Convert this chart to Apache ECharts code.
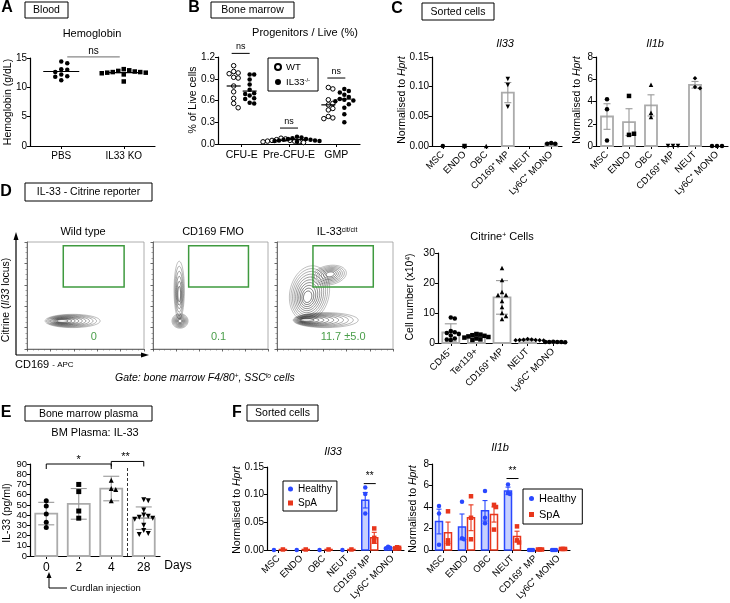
<!DOCTYPE html>
<html><head><meta charset="utf-8">
<script src="https://cdn.jsdelivr.net/npm/echarts@6/dist/echarts.min.js"></script>
<style>html,body{margin:0;padding:0;background:#fff}#c{width:730px;height:603px}</style>
</head><body><div id="c"></div>
<script>
// ---------------- DATA ----------------
// A: Hemoglobin
const aCats = ['PBS', 'IL33 KO'];
const aPBS = [14.4, 14.1, 13.1, 13.0, 12.6, 12.2, 11.9, 11.8, 11.2];
const aKO = [13.1, 12.9, 12.8, 12.7, 12.6, 12.6, 12.5, 12.5, 12.4, 12.2, 11.0];
const aMedian = [12.7, 12.5];
// B: Progenitors / Live
const bCats = ['CFU-E', 'Pre-CFU-E', 'GMP'];
const bWT = [[1.08, 1.0, 0.98, 0.97, 0.92, 0.91, 0.80, 0.72, 0.63, 0.56, 0.50],
             [0.08, 0.07, 0.06, 0.05, 0.05, 0.04, 0.04, 0.03, 0.03, 0.02],
             [0.78, 0.76, 0.61, 0.56, 0.54, 0.49, 0.47, 0.38, 0.36, 0.35]];
const bKO = [[0.96, 0.96, 0.89, 0.82, 0.75, 0.70, 0.69, 0.67, 0.63, 0.62, 0.57, 0.56],
             [0.10, 0.09, 0.08, 0.07, 0.07, 0.06, 0.06, 0.05, 0.05, 0.04, 0.04, 0.03],
             [0.76, 0.73, 0.71, 0.68, 0.65, 0.62, 0.61, 0.60, 0.59, 0.55, 0.50, 0.41, 0.30]];
const bWTmed = [0.80, 0.05, 0.54];
const bKOmed = [0.73, 0.06, 0.62];
// C: Sorted cells
const cCats = ['MSC', 'ENDO', 'OBC', 'CD169⁺ MP', 'NEUT', 'Ly6C⁺ MONO'];
const cIl33Mean = [0, 0, 0, 0.090, 0, 0.004];
const cIl33Err = [0, 0, 0, 0.017, 0, 0.001];
const cIl33Pts = [[0], [0], [0], [0.113, 0.103, 0.066], [], [0.005, 0.004, 0.004]];
const cIl1bMean = [2.65, 2.15, 3.65, 0, 5.5, 0];
const cIl1bErr = [1.15, 1.2, 0.95, 0, 0.3, 0];
const cIl1bPts = [[4.2, 3.3, 0.5], [4.5, 1.0, 1.1], [5.5, 3.0, 2.6], [0, 0, 0], [6.1, 5.3, 5.2], [0, 0, 0]];
const cSymbols = ['circle', 'rect', 'triangle', 'triangle', 'diamond', 'circle'];
const cRot = [0, 0, 0, 180, 0, 0];
// D: Citrine reporter
const flowTitles = ['Wild type', 'CD169 FMO', '{t|IL-33}{s|cit/cit}'];
const flowPct = ['0', '0.1', '11.7 ±5.0'];
const gate = [0.31, 0.58, 0.83, 0.965];
// contour blobs: [cx, cy, rx, ry, rotDeg, coreX, coreY, rings]
const flowBlobs = [
  [[0.39, 0.262, 0.235, 0.062, 0, 0.28, 0.262, 10]],
  [[0.235, 0.262, 0.07, 0.068, 0, 0.235, 0.262, 8], [0.228, 0.55, 0.045, 0.27, 0, 0.228, 0.5, 6]],
  [[0.42, 0.27, 0.28, 0.07, 0, 0.22, 0.27, 10], [0.28, 0.52, 0.17, 0.26, -10, 0.26, 0.48, 10], [0.45, 0.69, 0.15, 0.09, 12, 0.46, 0.70, 7]]
];
const dCats = ['CD45⁻', 'Ter119+', 'CD169⁺ MP', 'NEUT', 'Ly6C⁺ MONO'];
const dMean = [3.5, 2.2, 15.2, 1.0, 0.3];
const dErr = [2.9, 0.6, 5.6, 0.3, 0.1];
const dPts = [[8.5, 8.2, 4.0, 3.6, 3.3, 3.0, 2.5, 1.5, 1.2, 1.0],
              [3.0, 2.8, 2.6, 2.4, 2.2, 2.0, 1.8, 1.5, 1.2, 1.0],
              [25, 21, 17, 16, 16, 14, 12, 10, 9, 8],
              [1.3, 1.2, 1.1, 1.0, 1.0, 0.9, 0.9, 0.8],
              [0.4, 0.35, 0.3, 0.3, 0.3, 0.25]];
const dSymbols = ['circle', 'rect', 'triangle', 'diamond', 'circle'];
// E: BM plasma IL-33
const eCats = ['0', '2', '4', '28'];
const eMean = [41.5, 51, 66, 37];
const eErr = [11, 15, 12, 11];
const ePts = [[54, 49, 41, 33, 28], [70, 63, 44, 37], [74, 66, 65, 54], [55, 54, 45, 40, 39, 38, 37, 36, 30, 25, 22, 21]];
const eSymbols = ['circle', 'rect', 'triangle', 'triangle'];
const eRot = [0, 0, 0, 180];
// F: Healthy vs SpA
const fCats = ['MSC', 'ENDO', 'OBC', 'NEUT', 'CD169⁺ MP', 'Ly6C⁺ MONO'];
const fIl33HMean = [0, 0, 0, 0, 0.090, 0.004];
const fIl33HErr = [0, 0, 0, 0, 0.014, 0.001];
const fIl33HPts = [[0], [0], [0], [0], [0.113, 0.101, 0.066], [0.006, 0.004, 0.003]];
const fIl33SMean = [0.001, 0.001, 0.001, 0.001, 0.022, 0.004];
const fIl33SErr = [0, 0, 0, 0, 0.010, 0.001];
const fIl33SPts = [[0.001], [0.001], [0.001], [0.001], [0.039, 0.022, 0.015], [0.005, 0.004, 0.003]];
const fIl1bHMean = [2.65, 2.15, 3.65, 5.5, 0.02, 0.02];
const fIl1bHErr = [1.15, 1.2, 0.95, 0.35, 0, 0];
const fIl1bHPts = [[4.1, 3.4, 0.5], [4.5, 1.1, 1.0], [5.5, 3.0, 2.5], [6.1, 5.3, 5.2], [0, 0, 0], [0, 0, 0]];
const fIl1bSMean = [1.6, 3.0, 3.3, 1.25, 0.05, 0.1];
const fIl1bSErr = [1.0, 1.2, 0.7, 0.5, 0, 0];
const fIl1bSPts = [[3.6, 0.9, 0.6], [5.0, 3.0, 1.0], [4.2, 4.0, 1.9], [2.2, 0.9, 0.7], [0.05, 0.05, 0.05], [0.1, 0.1, 0.1]];

// ---------------- BUILD ----------------
const FONT = '"Liberation Sans", Arial, Helvetica, sans-serif';
const grids = [], xAxes = [], yAxes = [], series = [], graphics = [], legends = [];
const BLUE = '#2a48ff', RED = '#e8361c';

function addPlot(g, cats, yopt, xopt) {
  const idx = grids.length;
  grids.push({ left: g[0], top: g[1], width: g[2], height: g[3] });
  xAxes.push(Object.assign({
    type: 'category', gridIndex: idx, data: cats,
    axisLine: { lineStyle: { color: '#000', width: 1.2 } },
    axisTick: { show: true, alignWithLabel: true, length: 3, lineStyle: { color: '#000' } },
    axisLabel: { color: '#000', fontSize: 10, fontFamily: FONT, margin: 5, interval: 0 }
  }, xopt || {}));
  yAxes.push(Object.assign({
    type: 'value', gridIndex: idx,
    axisLine: { show: true, lineStyle: { color: '#000', width: 1.2 } },
    axisTick: { show: true, length: 3, lineStyle: { color: '#000' } },
    splitLine: { show: false },
    axisLabel: { color: '#000', fontSize: 10, fontFamily: FONT, margin: 3 }
  }, yopt));
  return idx;
}

function ln(x1, y1, x2, y2, stroke, lw, dash) {
  return { type: 'line', shape: { x1, y1, x2, y2 }, style: { stroke, lineWidth: lw, lineDash: dash || null } };
}

function barSeries(idx, means, errs, o) {
  series.push({
    type: 'custom', xAxisIndex: idx, yAxisIndex: idx, silent: true, z: 2, clip: false,
    data: means.map((m, i) => [i, m, m + errs[i], m - errs[i]]),
    renderItem: (p, api) => {
      const c = api.value(0), m = api.value(1), hi = api.value(2), lo = api.value(3);
      const p0 = api.coord([c, 0]), p1 = api.coord([c, m]), ph = api.coord([c, hi]), pl = api.coord([c, Math.max(lo, 0)]);
      const x = p0[0] + (o.offset || 0), w = o.width, cw = o.cap || 3;
      const ch = [];
      if (m > 0 && p0[1] - p1[1] > 0.5) ch.push({ type: 'rect', shape: { x: x - w / 2, y: p1[1], width: w, height: p0[1] - p1[1] }, style: { fill: o.fill, stroke: o.stroke, lineWidth: o.lw } });
      if (hi > m) {
        ch.push(ln(x, p1[1], x, ph[1], o.err, o.elw || 1.1), ln(x - cw, ph[1], x + cw, ph[1], o.err, o.elw || 1.1));
        ch.push(ln(x, p1[1], x, pl[1], o.err, o.elw || 1.1), ln(x - cw, pl[1], x + cw, pl[1], o.err, o.elw || 1.1));
      }
      return { type: 'group', children: ch };
    }
  });
}

// beeswarm-like horizontal layout of points (layout only, values untouched)
function swarm(vals, pxPerUnit, gap) {
  const placed = [];
  return vals.map((v) => {
    const used = new Set();
    placed.forEach(q => { if (Math.abs(q.v - v) * pxPerUnit < gap) used.add(q.s); });
    let s = 0; const order = [0, 1, -1, 2, -2, 3, -3, 4, -4, 5, -5];
    for (const k of order) { if (!used.has(k)) { s = k; break; } }
    placed.push({ v, s });
    return s;
  });
}

function dotSeries(idx, name, pts, o) {
  const data = [];
  pts.forEach((arr, c) => {
    const slots = swarm(arr, o.ppu, o.gap || 4);
    arr.forEach((v, i) => {
      const item = { value: [c, v], symbolOffset: [(o.offset || 0) + slots[i] * (o.step || 4), 0] };
      if (o.symbols) item.symbol = o.symbols[c];
      if (o.rots) item.symbolRotate = o.rots[c];
      data.push(item);
    });
  });
  series.push({
    type: 'scatter', name, xAxisIndex: idx, yAxisIndex: idx, data, silent: true, z: 4,
    symbol: o.symbol || 'circle', symbolSize: o.size || 4.5,
    itemStyle: { color: o.color, borderColor: o.border || o.color, borderWidth: o.bw || 0, opacity: 1 }
  });
}

function medianSeries(idx, meds, offset, half, color) {
  series.push({
    type: 'custom', xAxisIndex: idx, yAxisIndex: idx, silent: true, z: 5, clip: false,
    data: meds.map((m, i) => [i, m]),
    renderItem: (p, api) => {
      const q = api.coord([api.value(0), api.value(1)]);
      const x = q[0] + offset;
      return ln(x - half, q[1], x + half, q[1], color, 1.2);
    }
  });
}

// annotations in data coordinates
function annot(idx, items) {
  series.push({
    type: 'custom', xAxisIndex: idx, yAxisIndex: idx, silent: true, z: 6, clip: false,
    data: [[0, 0]],
    renderItem: (p, api) => {
      const ch = [];
      items.forEach(a => {
        const p1 = api.coord([a.c1, a.y]), p2 = api.coord([a.c2, a.y]);
        const x1 = p1[0] + (a.d1 || 0), x2 = p2[0] + (a.d2 || 0), y = p1[1];
        const col = a.color || '#000';
        ch.push(ln(x1, y, x2, y, col, a.lw || 1));
        if (a.drop1) ch.push(ln(x1, y, x1, y + a.drop1, col, 1));
        if (a.drop2) ch.push(ln(x2, y, x2, y + a.drop2, col, 1));
        if (a.text) ch.push({ type: 'text', style: { text: a.text, x: (x1 + x2) / 2 + (a.tdx || 0), y: y - (a.dy || 2), fill: '#000', font: `${a.fs || 9}px ${FONT}`, align: 'center', verticalAlign: 'bottom' } });
      });
      return { type: 'group', children: ch };
    }
  });
}

function T(x, y, text, o) {
  o = o || {};
  graphics.push({
    type: 'text', x, y, rotation: o.rot || 0, silent: true, z: 10,
    style: {
      text, fill: o.fill || '#000', font: `${o.it ? 'italic ' : ''}${o.w || 'normal'} ${o.s || 10}px ${FONT}`,
      align: o.a || 'center', verticalAlign: 'middle', textAlign: o.a || 'center', textVerticalAlign: 'middle',
      rich: o.rich || undefined
    }
  });
}
function box(x1, y1, x2, y2, text) {
  graphics.push({ type: 'rect', silent: true, z: 10, shape: { x: x1, y: y1, width: x2 - x1, height: y2 - y1 }, style: { fill: '#fff', stroke: '#000', lineWidth: 1 } });
  T((x1 + x2) / 2, (y1 + y2) / 2 + 0.5, text, { s: 10.5 });
}
const sup = (fs) => ({ t: { fontSize: fs, fontFamily: FONT, fill: '#000' }, s: { fontSize: fs * 0.62, fontFamily: FONT, verticalAlign: 'top', fill: '#000' }, i: { fontSize: fs, fontFamily: FONT, fontStyle: 'italic', fill: '#000' } });

// ---------- Panel A ----------
const gA = addPlot([30, 58, 125, 88], aCats, { min: 0, max: 15, interval: 5 });
dotSeries(gA, 'PBS', [aPBS, []], { ppu: 88 / 15, gap: 4.5, step: 6, color: '#000', size: 4.5, symbol: 'circle' });
dotSeries(gA, 'KO', [[], aKO], { ppu: 88 / 15, gap: 4.5, step: 5.5, color: '#000', size: 4.5, symbol: 'rect' });
medianSeries(gA, aMedian, 0, 18, '#000');
annot(gA, [{ c1: 0, d1: 6, c2: 1, d2: -4, y: 15.2, text: 'ns', color: '#888', lw: 1.2, fs: 10, dy: 1 }]);

// ---------- Panel B ----------
const gB = addPlot([218, 57, 142, 87], bCats, { min: 0, max: 1.2, interval: 0.3, axisLabel: { color: '#000', fontSize: 10, fontFamily: FONT, margin: 3, formatter: v => v.toFixed(1) } }, { axisLabel: { color: '#000', fontSize: 10.5, fontFamily: FONT, margin: 6, interval: 0 } });
dotSeries(gB, 'WT', bWT, { ppu: 87 / 1.2, gap: 4.5, step: 4.5, offset: -8, color: '#fff', border: '#000', bw: 1, size: 4.5 });
dotSeries(gB, 'IL33KO', bKO, { ppu: 87 / 1.2, gap: 4.5, step: 4.5, offset: 8, color: '#000', size: 4.5 });
medianSeries(gB, bWTmed, -8, 7, '#000');
medianSeries(gB, bKOmed, 8, 7, '#000');
annot(gB, [
  { c1: 0, d1: -10, c2: 0, d2: 8, y: 1.25, text: 'ns', fs: 9 },
  { c1: 1, d1: -9, c2: 1, d2: 9, y: 0.22, text: 'ns', fs: 9 },
  { c1: 2, d1: -9, c2: 2, d2: 9, y: 0.91, text: 'ns', fs: 9 }
]);
legends.push({
  left: 268, top: 58, orient: 'vertical', data: ['WT', 'IL33KO'], selectedMode: false,
  formatter: n => n === 'WT' ? '{t|WT}' : '{t|IL33}{s|-/-}',
  textStyle: { color: '#000', fontSize: 9.5, fontFamily: FONT, rich: sup(9.5) },
  itemWidth: 6, itemHeight: 6, itemGap: 5, borderColor: '#000', borderWidth: 1, padding: [4, 8, 4, 6], backgroundColor: '#fff'
});

// ---------- Panel C ----------
const rotLab = { color: '#000', fontSize: 9.5, fontFamily: FONT, rotate: 45, margin: 7, interval: 0 };
const gC1 = addPlot([432, 57, 130, 89], cCats, { min: 0, max: 0.15, interval: 0.05, axisLabel: { color: '#000', fontSize: 10, fontFamily: FONT, margin: 3, formatter: v => v.toFixed(2) } }, { axisLabel: rotLab });
barSeries(gC1, cIl33Mean, cIl33Err, { width: 12, fill: '#fff', stroke: '#ababab', lw: 1.8, err: '#999', cap: 3.5 });
dotSeries(gC1, 'c1', cIl33Pts, { ppu: 89 / 0.15, gap: 4, step: 4, color: '#000', size: 4.5, symbols: cSymbols, rots: cRot });
const gC2 = addPlot([596, 57, 132, 89], cCats, { min: 0, max: 8, interval: 2 }, { axisLabel: rotLab });
barSeries(gC2, cIl1bMean, cIl1bErr, { width: 12, fill: '#fff', stroke: '#ababab', lw: 1.8, err: '#999', cap: 3.5 });
dotSeries(gC2, 'c2', cIl1bPts, { ppu: 89 / 8, gap: 4, step: 5, color: '#000', size: 4.5, symbols: cSymbols, rots: cRot });

// ---------- Panel D flow plots ----------
const flowGrids = [[27, 242, 117, 107], [153, 242, 115, 107], [277, 242, 116, 107]];
flowGrids.forEach((fg, k) => {
  const idx = grids.length;
  grids.push({ left: fg[0], top: fg[1], width: fg[2], height: fg[3], show: true, borderColor: '#999', borderWidth: 0.8, backgroundColor: '#fff' });
  const axBase = {
    type: 'value', gridIndex: idx, min: 0, max: 1, interval: 0.2,
    axisLine: { show: true, lineStyle: { color: '#555', width: 0.8 } },
    axisTick: { show: true, length: 2.5, lineStyle: { color: '#444', width: 0.8 } },
    minorTick: { show: true, splitNumber: 4, length: 1.5, lineStyle: { color: '#666', width: 0.6 } },
    axisLabel: { show: false }, splitLine: { show: false }
  };
  xAxes.push(Object.assign({}, axBase));
  yAxes.push(Object.assign({}, axBase));
  const blobs = flowBlobs[k];
  series.push({
    type: 'custom', xAxisIndex: idx, yAxisIndex: idx, silent: true, clip: true, z: 3, data: [[0, 0]],
    renderItem: (p, api) => {
      const ch = [];
      blobs.forEach(b => {
        const [cx, cy, rx, ry, rot, kx, ky, n] = b;
        const rr = rot * Math.PI / 180;
        for (let r = 0; r < n; r++) {
          const s = 1 - (r / n) * 0.88;
          const ccx = kx + (cx - kx) * s, ccy = ky + (cy - ky) * s;
          const pts = [];
          for (let t = 0; t < 60; t++) {
            const a = t / 60 * Math.PI * 2;
            const ex = rx * s * Math.cos(a), ey = ry * s * Math.sin(a);
            pts.push(api.coord([ccx + ex * Math.cos(rr) - ey * Math.sin(rr), ccy + ex * Math.sin(rr) + ey * Math.cos(rr)]));
          }
          ch.push({ type: 'polygon', shape: { points: pts }, style: { fill: null, stroke: `rgba(30,30,30,${0.4 + 0.55 * r / n})`, lineWidth: 0.7 } });
        }
      });
      const g1 = api.coord([gate[0], gate[3]]), g2 = api.coord([gate[2], gate[1]]);
      ch.push({ type: 'rect', shape: { x: g1[0], y: g1[1], width: g2[0] - g1[0], height: g2[1] - g1[1] }, style: { fill: null, stroke: '#3f9a3f', lineWidth: 1.5 } });
      const tp = api.coord([0.57, 0.11]);
      ch.push({ type: 'text', style: { text: flowPct[k], x: tp[0], y: tp[1], fill: '#4a9e4a', font: `11px ${FONT}`, align: 'center', verticalAlign: 'middle' } });
      return { type: 'group', children: ch };
    }
  });
});
// Citrine+ cells
const gD = addPlot([438, 253, 128, 90], dCats, { min: 0, max: 30, interval: 10, axisLabel: { color: '#000', fontSize: 10.5, fontFamily: FONT, margin: 3 } }, { axisLabel: rotLab });
barSeries(gD, dMean, dErr, { width: 17, fill: '#fff', stroke: '#ababab', lw: 1.8, err: '#999', cap: 6 });
dotSeries(gD, 'd', dPts, { ppu: 90 / 30, gap: 4, step: 4, color: '#000', size: 4.5, symbols: dSymbols });

// ---------- Panel E ----------
const gE = addPlot([30, 464, 130, 92], eCats, { min: 0, max: 90, interval: 10, axisLabel: { color: '#000', fontSize: 9.5, fontFamily: FONT, margin: 3 } }, { axisLabel: { color: '#000', fontSize: 12, fontFamily: FONT, margin: 6 } });
barSeries(gE, eMean, eErr, { width: 22, fill: '#fff', stroke: '#ababab', lw: 1.8, err: '#999', cap: 8 });
dotSeries(gE, 'e', ePts, { ppu: 92 / 90, gap: 4.5, step: 4.5, color: '#000', size: 5, symbols: eSymbols, rots: eRot });
annot(gE, [
  { c1: 0, c2: 2, y: 90, text: '*', drop1: 5, drop2: 5, fs: 11, dy: -1 },
  { c1: 2, c2: 3, y: 92.5, text: '**', drop1: 5, drop2: 5, fs: 11, dy: -1, tdx: -2 }
]);
// dashed separator between day 4 and day 28
series.push({
  type: 'custom', xAxisIndex: gE, yAxisIndex: gE, silent: true, z: 6, clip: false, data: [[2, 0]],
  renderItem: (p, api) => {
    const a = api.coord([2, 0]), b = api.coord([3, 87]);
    const x = (a[0] + b[0]) / 2;
    return ln(x, a[1], x, b[1], '#333', 1, [3, 2]);
  }
});

// ---------- Panel F ----------
const gF1 = addPlot([267, 467, 137, 89], fCats, { min: 0, max: 0.15, interval: 0.05, axisLabel: { color: '#000', fontSize: 10, fontFamily: FONT, margin: 3, formatter: v => v.toFixed(2) } }, { axisLabel: rotLab });
barSeries(gF1, fIl33HMean, fIl33HErr, { offset: -4.5, width: 7, fill: 'rgba(70,100,255,0.3)', stroke: BLUE, lw: 1.5, err: BLUE, cap: 2.5 });
barSeries(gF1, fIl33SMean, fIl33SErr, { offset: 4.5, width: 7, fill: 'rgba(255,255,255,0.6)', stroke: RED, lw: 1.5, err: RED, cap: 2.5 });
dotSeries(gF1, 'Healthy', fIl33HPts, { ppu: 89 / 0.15, gap: 3, step: 2, offset: -4.5, color: BLUE, size: 4.5, symbol: 'circle' });
dotSeries(gF1, 'SpA', fIl33SPts, { ppu: 89 / 0.15, gap: 3, step: 2, offset: 4.5, color: RED, size: 4.5, symbol: 'rect' });
annot(gF1, [{ c1: 4, d1: -6, c2: 4, d2: 6, y: 0.12, text: '**', fs: 10, dy: 0 }]);
legends.push({
  left: 283, top: 481, orient: 'vertical', data: ['Healthy', 'SpA'], selectedMode: false,
  textStyle: { color: '#000', fontSize: 10, fontFamily: FONT },
  itemWidth: 5, itemHeight: 5, itemGap: 4, borderColor: '#000', borderWidth: 1, padding: [3, 5, 3, 5], backgroundColor: '#fff'
});
const gF2 = addPlot([432, 464, 138, 90], fCats, { min: 0, max: 8, interval: 2 }, { axisLabel: rotLab });
barSeries(gF2, fIl1bHMean, fIl1bHErr, { offset: -4.5, width: 7, fill: 'rgba(70,100,255,0.3)', stroke: BLUE, lw: 1.5, err: BLUE, cap: 2.5 });
barSeries(gF2, fIl1bSMean, fIl1bSErr, { offset: 4.5, width: 7, fill: 'rgba(255,255,255,0.6)', stroke: RED, lw: 1.5, err: RED, cap: 2.5 });
dotSeries(gF2, 'Healthy', fIl1bHPts, { ppu: 90 / 8, gap: 3, step: 2, offset: -4.5, color: BLUE, size: 4.5, symbol: 'circle' });
dotSeries(gF2, 'SpA', fIl1bSPts, { ppu: 90 / 8, gap: 3, step: 2, offset: 4.5, color: RED, size: 4.5, symbol: 'rect' });
annot(gF2, [{ c1: 3, d1: -6, c2: 3, d2: 6, y: 6.65, text: '**', fs: 10, dy: 0 }]);
legends.push({
  left: 523, top: 489, orient: 'vertical', data: ['Healthy', 'SpA'], selectedMode: false,
  textStyle: { color: '#000', fontSize: 11, fontFamily: FONT },
  itemWidth: 5, itemHeight: 5, itemGap: 5, borderColor: '#000', borderWidth: 1, padding: [4, 6, 4, 6], backgroundColor: '#fff'
});

// ---------- Text / annotation graphics ----------
T(7, 8, 'A', { w: 'bold', s: 16 }); T(194, 8, 'B', { w: 'bold', s: 16 }); T(397, 9, 'C', { w: 'bold', s: 16 });
T(6, 192, 'D', { w: 'bold', s: 16 }); T(6, 413, 'E', { w: 'bold', s: 16 }); T(237, 413, 'F', { w: 'bold', s: 16 });
box(25, 2, 68, 18, 'Blood');
box(211, 2, 294, 18, 'Bone marrow');
box(422, 3, 494, 20, 'Sorted cells');
box(25, 183, 152, 201, 'IL-33 - Citrine reporter');
box(25, 406, 152, 421, 'Bone marrow plasma');
box(247, 405, 318, 421, 'Sorted cells');
T(92, 34, 'Hemoglobin', { s: 11 });
T(305, 33, 'Progenitors / Live (%)', { s: 11 });
T(505, 44, 'Il33', { s: 11, it: true });
T(655, 44, 'Il1b', { s: 11, it: true });
T(83, 232, 'Wild type', { s: 11 });
T(213, 232, 'CD169 FMO', { s: 11 });
T(337, 232, flowTitles[2], { s: 11, rich: sup(11) });
T(502, 237, '{t|Citrine}{s|+}{t| Cells}', { s: 11, rich: sup(11) });
T(95, 433, 'BM Plasma: IL-33', { s: 11 });
T(333, 452, 'Il33', { s: 11, it: true });
T(500, 448, 'Il1b', { s: 11, it: true });
// y axis labels
const R = Math.PI / 2;
T(8, 102, 'Hemoglobin (g/dL)', { rot: R, s: 10.5 });
T(193, 100, '% of Live cells', { rot: R, s: 10.5 });
T(402, 100, '{t|Normalised to }{i|Hprt}', { rot: R, s: 10.5, rich: sup(10.5) });
T(577, 100, '{t|Normalised to }{i|Hprt}', { rot: R, s: 10.5, rich: sup(10.5) });
T(410, 297, '{t|Cell number (x10}{s|4}{t|)}', { rot: R, s: 10.5, rich: sup(10.5) });
T(7, 513, 'IL-33 (pg/ml)', { rot: R, s: 10.5 });
T(237, 510, '{t|Normalised to }{i|Hprt}', { rot: R, s: 10.5, rich: sup(10.5) });
T(413, 509, '{t|Normalised to }{i|Hprt}', { rot: R, s: 10.5, rich: sup(10.5) });
T(6, 300, '{t|Citrine (}{i|Il33}{t| locus)}', { rot: R, s: 10.5, rich: sup(10.5) });
// flow axes arrows
graphics.push({ type: 'line', silent: true, shape: { x1: 16, y1: 238, x2: 16, y2: 355 }, style: { stroke: '#000', lineWidth: 1.2 } });
graphics.push({ type: 'line', silent: true, shape: { x1: 16, y1: 355, x2: 143, y2: 355 }, style: { stroke: '#000', lineWidth: 1.2 } });
graphics.push({ type: 'polygon', silent: true, shape: { points: [[16, 232], [13.5, 240], [18.5, 240]] }, style: { fill: '#000' } });
graphics.push({ type: 'polygon', silent: true, shape: { points: [[149, 355], [141, 352.5], [141, 357.5]] }, style: { fill: '#000' } });
T(15, 365, '{t|CD169 }{m|- APC}', { a: 'left', s: 11, rich: { t: { fontSize: 11, fontFamily: FONT, fill: '#000' }, m: { fontSize: 8, fontFamily: FONT, fill: '#000' } } });
T(115, 378, '{t|Gate: bone marrow F4/80}{s|+}{t|, SSC}{s|lo}{t| cells}', { a: 'left', s: 10.5, rich: {
  t: { fontSize: 10.5, fontFamily: FONT, fontStyle: 'italic', fill: '#000' },
  s: { fontSize: 6.5, fontFamily: FONT, fontStyle: 'italic', verticalAlign: 'top', fill: '#000' } } });
// E extras
T(178, 566, 'Days', { s: 12 });
graphics.push({ type: 'line', silent: true, shape: { x1: 49, y1: 577, x2: 49, y2: 588 }, style: { stroke: '#000', lineWidth: 1 } });
graphics.push({ type: 'line', silent: true, shape: { x1: 49, y1: 588, x2: 67, y2: 588 }, style: { stroke: '#000', lineWidth: 1 } });
graphics.push({ type: 'polygon', silent: true, shape: { points: [[49, 572], [46.5, 578], [51.5, 578]] }, style: { fill: '#000' } });
T(70, 588, 'Curdlan injection', { a: 'left', s: 9.5 });

const chart = echarts.init(document.getElementById('c'), null, { renderer: 'canvas', width: 730, height: 603 });
chart.setOption({
  animation: false, backgroundColor: '#fff',
  grid: grids, xAxis: xAxes, yAxis: yAxes, series, legend: legends, graphic: { elements: graphics }
});
</script></body></html>
